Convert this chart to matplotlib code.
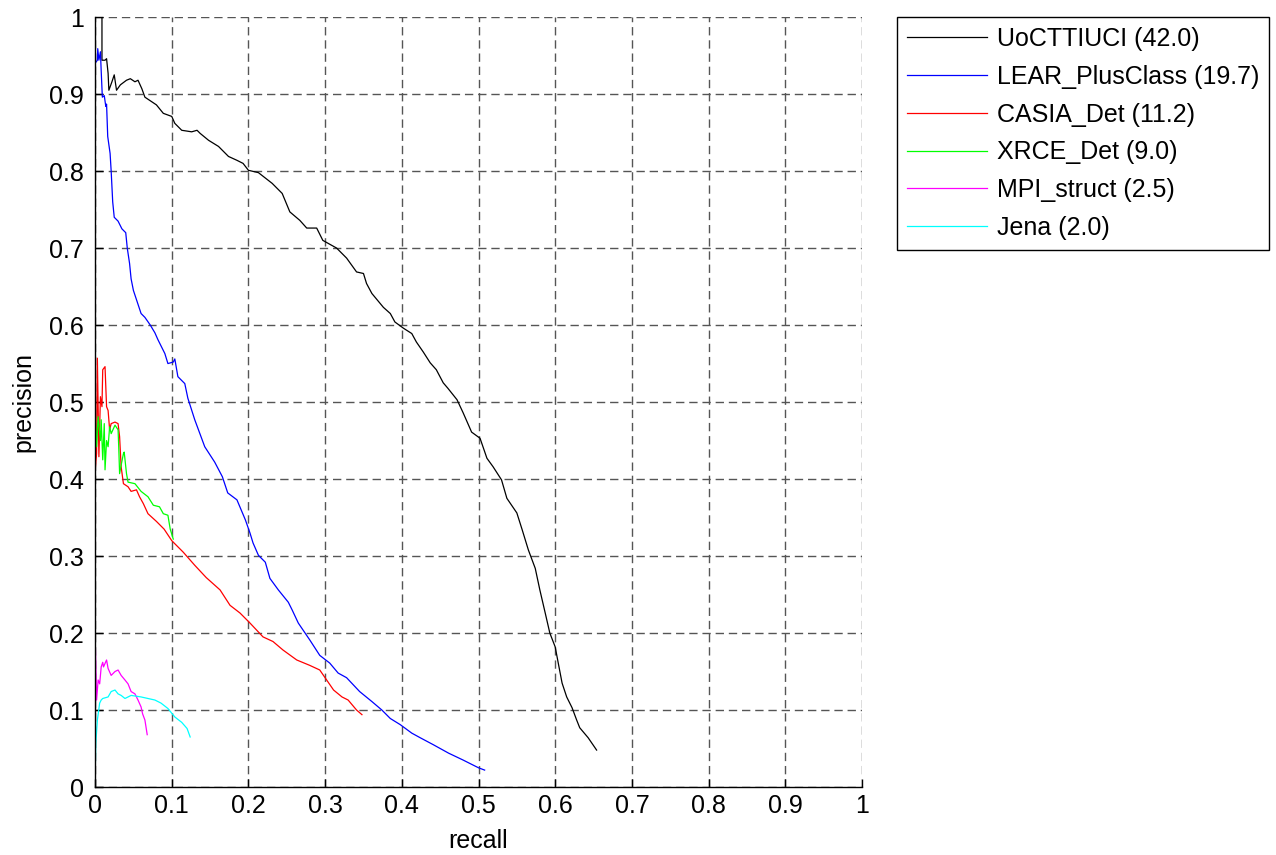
#!/usr/bin/env python3
# -*- coding=utf-8 -*-

import matplotlib
matplotlib.use('Agg')
from matplotlib import pyplot as plt

# precision / recall points
uoc_recall = [0, 0.009, 0.009, 0.013, 0.015, 0.017, 0.018, 0.022, 0.025, 0.028,
              0.033, 0.041, 0.046, 0.052, 0.056, 0.061, 0.065, 0.074, 0.080, 0.089,
              0.100, 0.104, 0.113, 0.126, 0.133, 0.137, 0.148, 0.161, 0.174, 0.185,
              0.193, 0.200, 0.213, 0.231, 0.244, 0.254, 0.267, 0.276, 0.289, 0.297,
              0.315, 0.328, 0.341, 0.350, 0.354, 0.361, 0.376, 0.385, 0.391, 0.402,
              0.413, 0.419, 0.428, 0.437, 0.445, 0.454, 0.460, 0.472, 0.480, 0.491,
              0.502, 0.511, 0.519, 0.530, 0.537, 0.550, 0.557, 0.565, 0.574, 0.580,
              0.587, 0.593, 0.600, 0.604, 0.609, 0.615, 0.622, 0.628, 0.632, 0.643,
              0.654]
uoc_precision = [1.0, 1.0, 0.944, 0.944, 0.946, 0.927, 0.905, 0.916, 0.925, 0.905,
                 0.912, 0.918, 0.920, 0.916, 0.918, 0.907, 0.896, 0.890, 0.886, 0.875,
                 0.871, 0.862, 0.853, 0.851, 0.853, 0.849, 0.840, 0.832, 0.819, 0.814,
                 0.810, 0.801, 0.798, 0.784, 0.771, 0.747, 0.736, 0.726, 0.726, 0.710,
                 0.700, 0.687, 0.669, 0.667, 0.654, 0.641, 0.623, 0.615, 0.604, 0.596,
                 0.589, 0.578, 0.565, 0.551, 0.542, 0.525, 0.518, 0.503, 0.486, 0.461,
                 0.453, 0.427, 0.416, 0.399, 0.375, 0.356, 0.334, 0.308, 0.284, 0.256,
                 0.226, 0.200, 0.182, 0.161, 0.135, 0.117, 0.103, 0.087, 0.077, 0.064,
                 0.048]

lear_recall = [0, 0.0, 0.003, 0.0035, 0.005, 0.007, 0.008, 0.0095, 0.012, 0.014,
               0.015, 0.0165, 0.0196, 0.021, 0.023, 0.025, 0.03, 0.035, 0.04, 0.042,
               0.045, 0.047, 0.05, 0.055, 0.06, 0.065, 0.072, 0.078, 0.082, 0.091,
               0.095, 0.102, 0.104, 0.108, 0.117, 0.121, 0.130, 0.143, 0.156, 0.166,
               0.173, 0.185, 0.196, 0.202, 0.206, 0.213, 0.222, 0.228, 0.239, 0.252,
               0.257, 0.265, 0.280, 0.293, 0.306, 0.317, 0.328, 0.345, 0.361, 0.374,
               0.385, 0.398, 0.413, 0.424, 0.441, 0.461, 0.480, 0.500, 0.508]
lear_precision = [1.0, 0.94, 0.944, 0.959, 0.944, 0.955, 0.93, 0.896, 0.898, 0.884,
                  0.887, 0.845, 0.823, 0.80, 0.76, 0.74, 0.735, 0.725, 0.72, 0.70,
                  0.68, 0.66, 0.645, 0.63, 0.615, 0.61, 0.60, 0.59, 0.581, 0.563,
                  0.550, 0.552, 0.556, 0.533, 0.524, 0.505, 0.477, 0.442, 0.422, 0.403,
                  0.382, 0.373, 0.347, 0.330, 0.317, 0.301, 0.292, 0.271, 0.256, 0.240,
                  0.230, 0.213, 0.191, 0.171, 0.161, 0.148, 0.142, 0.124, 0.111, 0.100,
                  0.089, 0.081, 0.070, 0.064, 0.055, 0.044, 0.035, 0.025, 0.022]

casia_recall = [0, 0.002, 0.003, 0.005, 0.007, 0.009, 0.010, 0.013, 0.015, 0.017,
                0.019, 0.021, 0.026, 0.030, 0.032, 0.034, 0.037, 0.043, 0.047, 0.054,
                0.058, 0.063, 0.069, 0.08, 0.09, 0.1, 0.115, 0.13, 0.145, 0.163,
                0.176, 0.189, 0.202, 0.219, 0.232, 0.245, 0.263, 0.280, 0.293, 0.302,
                0.311, 0.322, 0.330, 0.341, 0.348]
casia_precision = [0.41, 0.433, 0.557, 0.429, 0.507, 0.494, 0.542, 0.546, 0.494, 0.489,
                   0.464, 0.472, 0.474, 0.472, 0.455, 0.416, 0.394, 0.390, 0.384, 0.386,
                   0.377, 0.368, 0.355, 0.345, 0.335, 0.32, 0.305, 0.288, 0.272, 0.256,
                   0.236, 0.226, 0.213, 0.195, 0.189, 0.178, 0.165, 0.158, 0.152, 0.139,
                   0.126, 0.117, 0.113, 0.100, 0.094]

xrce_recall = [0, 0.002, 0.004, 0.007, 0.008, 0.010, 0.012, 0.013, 0.015, 0.017,
               0.019, 0.021, 0.026, 0.030, 0.031, 0.032, 0.034, 0.037, 0.038, 0.041,
               0.043, 0.052, 0.060, 0.069, 0.076, 0.084, 0.089, 0.095, 0.098, 0.102]
xrce_precision = [0.485, 0.442, 0.481, 0.450, 0.477, 0.425, 0.472, 0.412, 0.450, 0.442,
                  0.468, 0.459, 0.470, 0.464, 0.438, 0.407, 0.418, 0.433, 0.435, 0.407,
                  0.396, 0.394, 0.384, 0.377, 0.366, 0.364, 0.355, 0.353, 0.335, 0.322]

mpi_recall = [0, 0.002, 0.004, 0.006, 0.008, 0.010, 0.011, 0.015, 0.017, 0.021,
              0.026, 0.030, 0.034, 0.039, 0.043, 0.047, 0.052, 0.056, 0.060, 0.062,
              0.065, 0.068]
mpi_precision = [0.2, 0.113, 0.139, 0.134, 0.156, 0.162, 0.156, 0.165, 0.154, 0.145,
                 0.150, 0.152, 0.145, 0.139, 0.134, 0.124, 0.121, 0.113, 0.104, 0.095,
                 0.087, 0.068]

jena_recall = [0, 0.001, 0.003, 0.006, 0.008, 0.010, 0.017, 0.021, 0.026, 0.030,
               0.034, 0.039, 0.043, 0.047, 0.060, 0.069, 0.078, 0.086, 0.095, 0.104,
               0.113, 0.120, 0.124]
jena_precision = [0.01, 0.057, 0.087, 0.109, 0.113, 0.115, 0.117, 0.124, 0.126, 0.121,
                  0.119, 0.115, 0.117, 0.119, 0.117, 0.115, 0.113, 0.109, 0.102, 0.091,
                  0.084, 0.076, 0.065]

labels = ['UoCTTIUCI (42.0)', 'LEAR_PlusClass (19.7)', 'CASIA_Det (11.2)',
          'XRCE_Det (9.0)', 'MPI_struct (2.5)', 'Jena (2.0)']
ticks = [0, 0.1, 0.2, 0.3, 0.4, 0.5, 0.6, 0.7, 0.8, 0.9, 1]
tick_labels = ['0', '0.1', '0.2', '0.3', '0.4', '0.5', '0.6', '0.7', '0.8', '0.9', '1']


def main():
    plt.rcParams['font.family'] = ['Liberation Sans', 'DejaVu Sans']
    plt.rcParams['font.size'] = 18

    fig = plt.figure(figsize=(12.76, 8.55), dpi=100)
    ax = fig.add_axes([0.0745, 0.0795, 0.601, 0.9005])

    series = [(uoc_recall, uoc_precision, '#000000'),
              (lear_recall, lear_precision, '#0000ff'),
              (casia_recall, casia_precision, '#ff0000'),
              (xrce_recall, xrce_precision, '#00ff00'),
              (mpi_recall, mpi_precision, '#ff00ff'),
              (jena_recall, jena_precision, '#00ffff')]
    for (r, p, c), lab in zip(series, labels):
        ax.plot(r, p, color=c, lw=0.9, label=lab)

    ax.set_xlim(0, 1)
    ax.set_ylim(0, 1)
    ax.set_xticks(ticks)
    ax.set_xticklabels(tick_labels)
    ax.set_yticks(ticks)
    ax.set_yticklabels(tick_labels)
    ax.tick_params(direction='in', length=6, width=1, labelsize=18)
    ax.tick_params(axis='x', pad=5)
    ax.tick_params(axis='y', pad=8)
    ax.grid(True, color='#555555', lw=1.0, linestyle=(0, (6, 3.5)))
    ax.set_axisbelow(True)
    for s in ['top', 'right']:
        ax.spines[s].set_visible(False)
    for s in ['left', 'bottom']:
        ax.spines[s].set_linewidth(1)
    ax.set_xlabel('recall', fontsize=18, labelpad=8)
    ax.set_ylabel('precision', fontsize=18, labelpad=10)

    leg = ax.legend(loc='upper left', bbox_to_anchor=(0.703, 0.980),
                    bbox_transform=fig.transFigure, borderaxespad=0,
                    fancybox=False, framealpha=1, edgecolor='k',
                    handlelength=3.2, handletextpad=0.4, labelspacing=0.55,
                    borderpad=0.4, fontsize=18)
    leg.get_frame().set_linewidth(1)

    fig.savefig('out.png', dpi=100)


if "__main__" == __name__:
    main()
